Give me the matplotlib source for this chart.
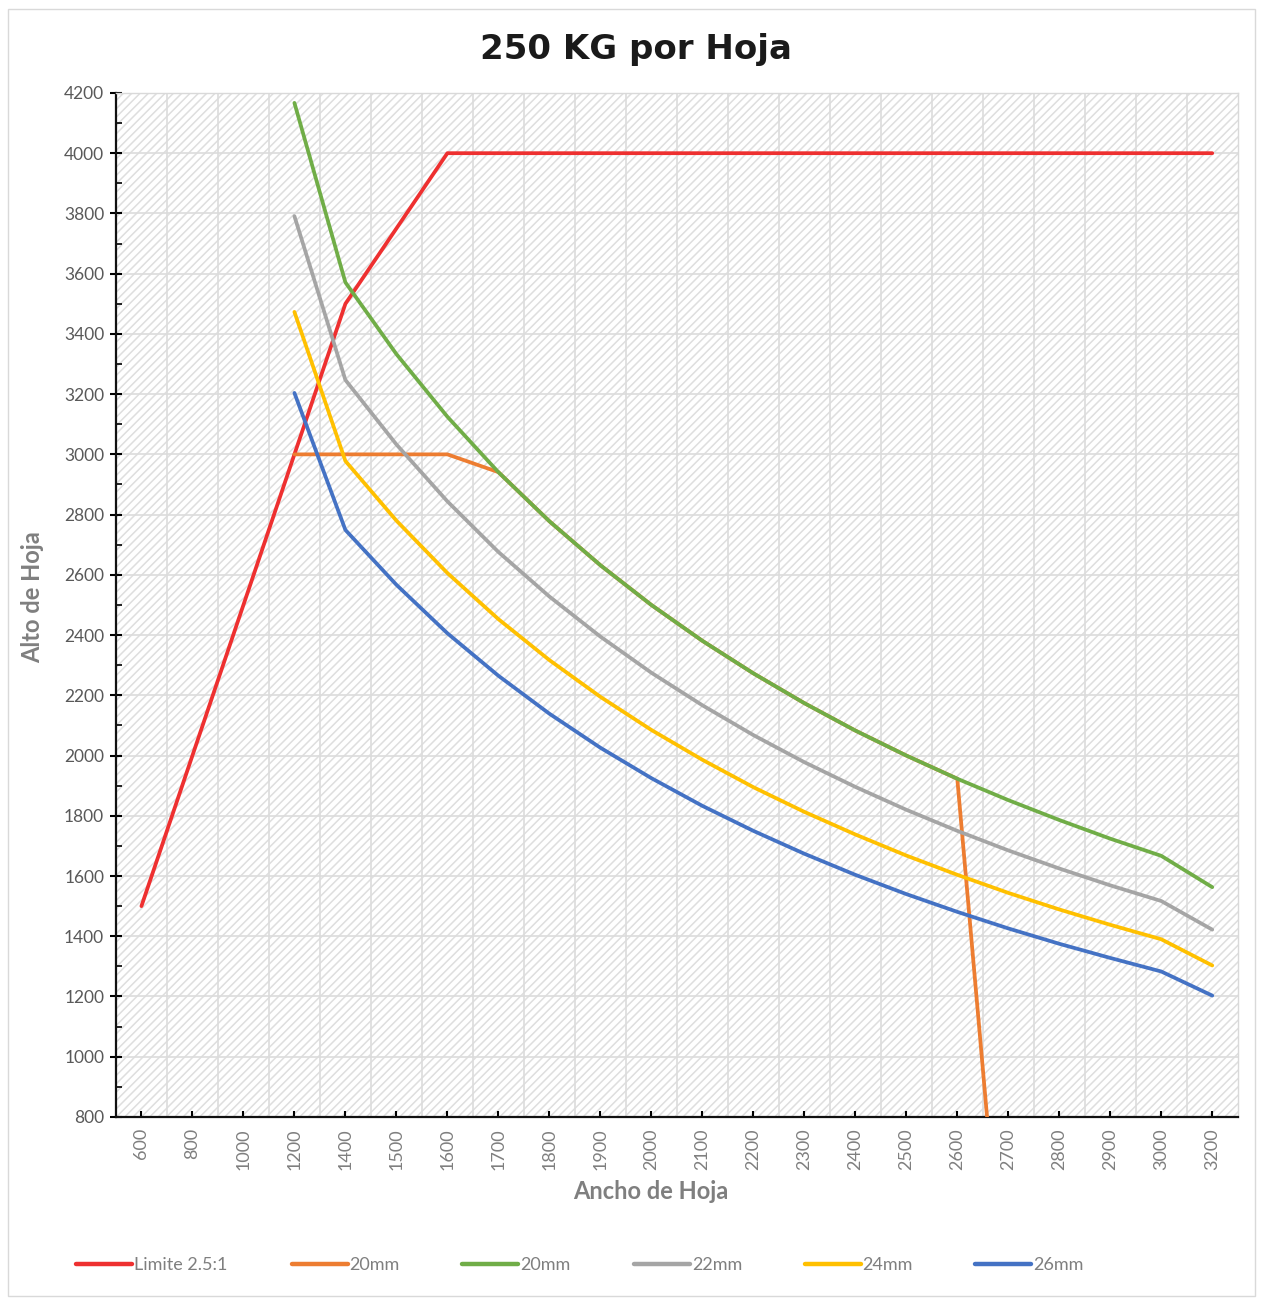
"""Recreation of the '250 KG por Hoja' sheet chart."""

import matplotlib
matplotlib.use("Agg")
import matplotlib.pyplot as plt
import numpy as np
from matplotlib.lines import Line2D
from matplotlib.patches import Rectangle

# Category axis (Excel-style, equally spaced)
anchos = ["600", "800", "1000", "1200", "1400", "1500", "1600", "1700", "1800",
          "1900", "2000", "2100", "2200", "2300", "2400", "2500", "2600", "2700",
          "2800", "2900", "3000", "3200"]

nan = np.nan
limite = [1500, 2000, 2500, 3000, 3500, 3750, 4000, 4000, 4000, 4000, 4000,
          4000, 4000, 4000, 4000, 4000, 4000, 4000, 4000, 4000, 4000, 4000]
mm20_a = [nan, nan, nan, 3000, 3000, 3000, 3000, 2941, 2778, 2632, 2500,
          2381, 2273, 2174, 2083, 2000, 1923, 0, nan, nan, nan, nan]
mm20_b = [nan, nan, nan, 4167, 3571, 3333, 3125, 2941, 2778, 2632, 2500,
          2381, 2273, 2174, 2083, 2000, 1923, 1852, 1786, 1724, 1667, 1563]
mm22 = [nan, nan, nan, 3791, 3247, 3033, 2844, 2676, 2528, 2395, 2275,
        2167, 2068, 1978, 1896, 1820, 1750, 1685, 1625, 1569, 1517, 1422]
mm24 = [nan, nan, nan, 3473, 2978, 2780, 2606, 2453, 2317, 2195, 2085,
        1986, 1895, 1813, 1738, 1668, 1604, 1544, 1489, 1438, 1390, 1303]
mm26 = [nan, nan, nan, 3204, 2749, 2567, 2406, 2265, 2139, 2026, 1925,
        1833, 1750, 1674, 1604, 1540, 1481, 1426, 1375, 1328, 1283, 1203]

series = [
    ("Limite 2.5:1", limite, "#EE3030"),
    ("20mm", mm20_a, "#ED7D31"),
    ("20mm", mm20_b, "#70AD47"),
    ("22mm", mm22, "#A5A5A5"),
    ("24mm", mm24, "#FFC000"),
    ("26mm", mm26, "#4472C4"),
]

plt.rcParams["font.family"] = ["Lato", "DejaVu Sans"]
plt.rcParams["hatch.linewidth"] = 1.1

fig = plt.figure(figsize=(12.63, 13), dpi=100)
ax = fig.add_axes([0.0918, 0.1408, 0.8882, 0.7877])

# Hatched plot area
ax.add_patch(Rectangle((0, 0), 1, 1, transform=ax.transAxes, facecolor="white",
                       edgecolor="#dedede", linewidth=0, hatch="////", zorder=0))

x = np.arange(len(anchos))
for label, vals, color in series:
    ax.plot(x, vals, color=color, linewidth=2.7, label=label, zorder=3,
            solid_capstyle="round")

ax.set_xlim(-0.5, len(anchos) - 0.5)
ax.set_ylim(800, 4200)

ax.set_xticks(x)
ax.set_xticklabels(anchos, rotation=90, fontsize=13, color="#7f7f7f")
ax.set_xticks(np.arange(0.5, len(anchos) - 0.5, 1), minor=True)
ax.set_yticks(np.arange(800, 4201, 200))
ax.set_yticks(np.arange(900, 4200, 200), minor=True)
ax.tick_params(axis="y", which="major", direction="inout", length=9, width=1.5,
               labelsize=12.5, labelcolor="#595959", pad=4)
ax.tick_params(axis="y", which="minor", direction="in", length=4, width=1.2)
ax.tick_params(axis="x", which="major", direction="in", length=4.5, width=1.5, pad=8)
ax.tick_params(axis="x", which="minor", length=0)

ax.grid(axis="x", which="minor", color="#dcdcdc", linewidth=1.2, zorder=1)
ax.grid(axis="y", which="major", color="#dcdcdc", linewidth=1.2, zorder=1)
ax.set_axisbelow(True)

for side in ("left", "bottom"):
    ax.spines[side].set_linewidth(1.6)
    ax.spines[side].set_color("#111111")
for side in ("top", "right"):
    ax.spines[side].set_linewidth(1)
    ax.spines[side].set_color("#d9d9d9")

ax.set_xlabel("Ancho de Hoja", fontsize=17, fontweight="bold", color="#7f7f7f")
ax.xaxis.set_label_coords(0.477, -0.062)
ax.set_ylabel("Alto de Hoja", fontsize=17, fontweight="bold", color="#7f7f7f")
ax.yaxis.set_label_coords(-0.064, 0.508)
fig.text(0.5036, 0.962, "250 KG por Hoja", ha="center", va="center",
         fontsize=24.5, fontweight="bold", color="#1a1a1a",
         family=["DejaVu Sans"])

# Legend entries spread evenly like Excel
leg_x = [0.060, 0.231, 0.366, 0.502, 0.637, 0.772]
for (label, vals, color), lx in zip(series, leg_x):
    h = Line2D([], [], color=color, linewidth=3.2, solid_capstyle="round")
    fig.legend(handles=[h], labels=[label], loc="center left",
               bbox_to_anchor=(lx, 0.027), frameon=False, fontsize=13,
               handlelength=3.1, handletextpad=0.1, borderpad=0,
               borderaxespad=0, labelcolor="#7f7f7f")

# Thin outer border
fig.add_artist(Rectangle((0.006, 0.003), 0.988, 0.99, transform=fig.transFigure,
                         facecolor="none", edgecolor="#d9d9d9", linewidth=1))

fig.savefig("out.png", dpi=100)
